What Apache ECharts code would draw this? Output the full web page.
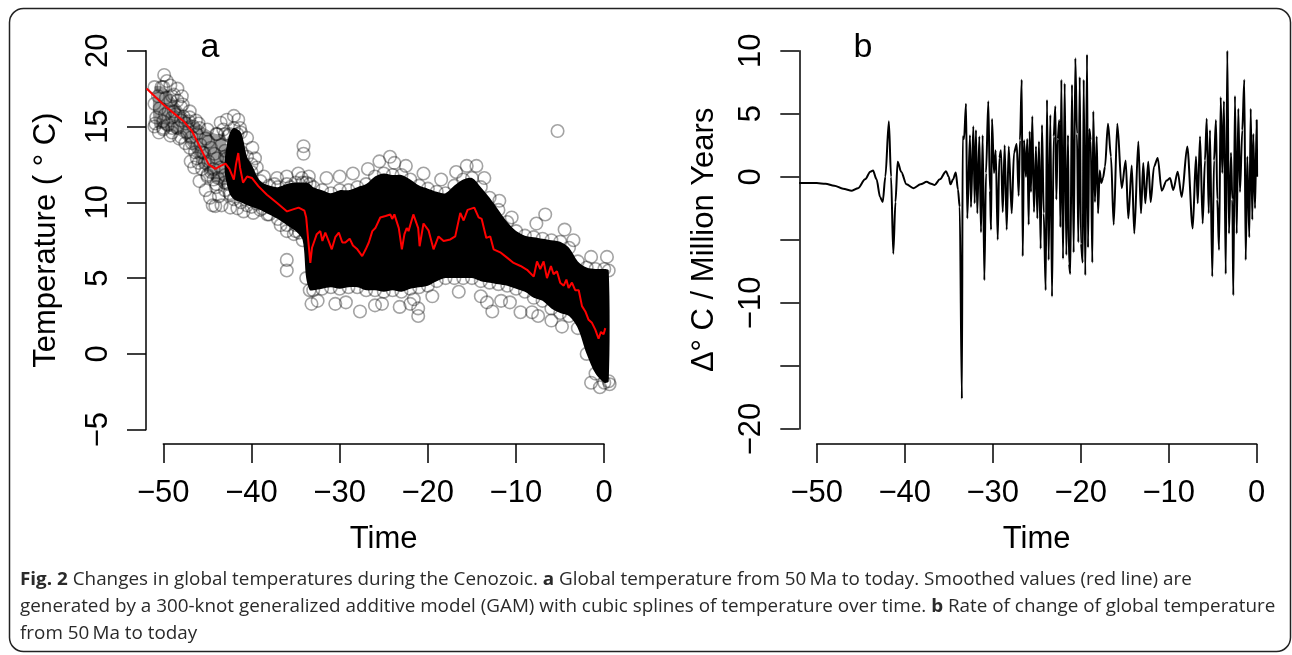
<!DOCTYPE html>
<html><head><meta charset="utf-8">
<script src="https://cdn.jsdelivr.net/npm/echarts@6/dist/echarts.min.js"></script>
<style>html,body{margin:0;padding:0;background:#fff}#c{width:1292px;height:655px}</style>
</head><body><div id="c"></div>
<script>
// ---------- tick labels ----------
const xTicks = [-50, -40, -30, -20, -10, 0];
const xTickLabels = ['\u221250', '\u221240', '\u221230', '\u221220', '\u221210', '0'];
const yTicksA = [-5, 0, 5, 10, 15, 20];
const yTickLabelsA = ['\u22125', '0', '5', '10', '15', '20'];
const yTicksB = [-20, -15, -10, -5, 0, 5, 10];
const yTickLabelsB = ['\u221220', '', '\u221210', '', '0', '5', '10'];

// ---------- panel a: dense core of the point cloud (inner envelope) ----------
const coreT  = [-43.0,-42.5,-42.0,-41.2,-40.5,-40.0,-39.0,-38.0,-37.0,-36.0,-35.0,-34.2,-33.8,-33.4,-33.0,-32.0,-31.0,-30.0,-29.0,-28.0,-27.0,-26.0,-25.0,-24.0,-23.0,-22.0,-21.0,-20.0,-19.0,-18.0,-17.0,-16.0,-15.0,-14.0,-13.0,-12.0,-11.0,-10.0,-9.0,-8.0,-7.0,-6.0,-5.0,-4.0,-3.0,-2.0,-1.0,0.0,0.5];
const coreHi = [13.0,14.5,14.9,14.6,13.0,12.5,11.4,11.1,11.0,11.2,11.3,11.3,11.3,11.2,11.0,10.8,10.6,10.8,10.8,11.0,11.2,11.7,11.9,11.8,11.8,11.5,11.1,10.9,10.7,10.6,11.1,11.5,11.6,11.0,10.3,9.5,8.7,8.1,7.8,7.7,7.6,7.5,7.4,7.0,6.1,5.7,5.6,5.6,5.5];
const coreLo = [11.8,10.6,10.2,10.0,9.8,9.7,9.5,9.2,8.9,8.5,8.1,7.5,5.0,4.2,4.2,4.3,4.4,4.3,4.4,4.4,4.2,4.2,4.1,4.2,4.1,4.3,4.4,4.5,4.8,5.0,5.0,5.0,5.0,4.8,4.7,4.6,4.5,4.3,4.1,3.7,3.5,3.0,2.7,2.5,1.7,0.0,-1.3,-1.9,-1.8];
// lighter, sparser part of the cloud (early Eocene)
const greyT  = [-51.0,-50.0,-49.0,-48.0,-47.0,-46.0,-45.0,-44.0,-43.0];
const greyHi = [17.6,17.6,17.0,16.3,15.6,15.2,14.8,14.5,14.5];
const greyLo = [15.0,14.8,14.6,14.3,13.6,12.6,11.8,11.2,10.8];
// individually visible circles
const ptT = [-49.9,-49.6,-49.2,-48.4,-48.8,-49.2,-48.4,-47.8,-49.8,-48.8,-50.0,-49.5,-50.0,-49.2,-48.4,-47.7,-47.1,-46.6,-47.3,-46.2,-46.75,-45.8,-46.9,-46.2,-45.4,-44.9,-44.3,-45.0,-45.6,-43.7,-44.1,-43.4,-42.4,-41.6,-40.9,-39.8,-39.4,-43.5,-42.8,-42.0,-41.5,-41.3,-40.5,-39.9,-39.6,-39.4,-38.6,-37.1,-36.0,-34.3,-33.5,-38.2,-36.7,-36.0,-35.2,-34.1,-34.1,-36.0,-36.0,-43.9,-43.4,-42.8,-43.9,-44.3,-42.0,-41.6,-41.6,-42.0,-40.9,-41.3,-40.2,-40.2,-42.4,-41.3,
  -50.6,-50.4,-50.8,-49.0,-48.0,-47.5,-46.4,-45.2,-44.6,-44.0,-43.0,-46.5,-45.9,-45.2,-44.7,-44.4,
  -51.0,-50.9,-50.5,-50.2,-49.7,-49.4,-49.0,-48.6,-48.2,-47.9,-47.5,-47.0,-46.8,-46.3,-45.9,-45.6,-45.3,-44.9,-44.6,-44.2,-43.8,-43.5,-43.2,-43.0,-42.6,-42.6,-42.3,-41.9,-41.1,-40.7,-40.0,-39.2,-38.8,-37.8,-37.4,-36.4,-35.6,-35.0,-34.7,-34.6,
  -27.7,-24.3,-21.1,-21.1,-14.5,-12.7,-9.5,-8.2,-6.7,-5.3,
  -33.2,-32.5,-30.5,-29.3,-26.0,-25.2,-23.2,-22.0,-21.6,-19.5,-16.5,-14.0,-13.3,-11.7,-10.7,-7.5,-6.0,-4.8,
  -31.5,-30.0,-28.5,-26.8,-25.5,-23.8,-22.5,-20.5,-18.5,-16.8,-15.6,-13.6,-11.9,-10.5,-7.7,-4.5,-3.5,-1.5,0.3,0.6,-0.5,-1.5];
const ptV = [18.4,18.0,17.7,17.5,17.1,16.7,16.7,16.45,15.8,16.0,15.35,15.1,14.9,14.4,14.9,15.65,15.35,15.0,14.6,14.5,13.9,13.8,12.7,12.9,13.25,12.7,11.5,11.7,12.2,10.4,9.75,9.8,9.65,9.6,9.4,9.3,9.9,15.25,15.45,15.7,15.45,14.9,14.25,13.6,12.9,12.3,11.7,11.6,11.7,11.6,11.7,9.2,8.5,8.1,7.9,13.7,13.2,6.2,5.5,14.5,13.8,12.9,12.9,12.2,14.1,14.5,13.6,11.8,12.0,11.2,11.4,10.5,10.5,10.5,
  17.0,16.2,15.6,15.6,15.4,13.9,13.3,14.2,13.6,11.0,11.3,12.3,11.4,10.8,10.3,9.8,
  16.5,15.2,14.6,17.6,16.9,16.0,14.9,15.8,14.2,17.0,15.2,16.0,14.3,15.4,14.9,13.3,12.6,14.0,12.0,13.2,11.6,12.3,14.8,13.4,14.4,11.2,13.2,12.6,13.3,10.9,12.0,10.5,9.6,10.2,11.2,10.5,11.0,8.5,11.9,8.0,
  2.8,13.0,3.0,2.5,12.4,2.8,2.75,2.75,9.2,14.7,
  3.3,3.5,3.3,3.4,3.2,3.3,3.1,3.3,3.6,3.8,4.1,3.8,3.4,3.5,3.4,2.5,2.2,1.8,
  11.6,11.7,11.9,12.2,12.7,12.6,12.4,11.9,11.5,12.0,12.4,11.6,10.1,9.0,8.6,8.2,7.5,6.4,6.4,-2.0,-2.2,-1.9];
// GAM smooth (red line)
const gamT = [-51.9,-50.0,-48.86,-47.7,-46.75,-45.8,-44.86,-44.1,-43.5,-42.95,-42.5,-42.0,-41.76,-41.5,-41.3,-40.96,-40.5,-39.94,-39.2,-38.25,-37.1,-35.97,-35.2,-34.66,-34.0,-33.8,-33.56,-33.33,-33.14,-32.96,-32.6,-32.2,-31.96,-31.63,-31.26,-30.9,-30.5,-30.1,-29.7,-29.36,-28.87,-28.5,-28.0,-27.45,-27.05,-26.7,-26.3,-25.96,-25.4,-24.8,-24.26,-24.05,-23.8,-23.3,-22.95,-22.66,-22.4,-22.2,-21.65,-21.1,-20.94,-20.5,-19.93,-19.36,-18.8,-18.22,-17.46,-16.9,-16.33,-15.95,-15.5,-14.74,-14.25,-13.9,-13.38,-12.93,-12.55,-11.8,-11.03,-10.28,-9.5,-8.76,-8.0,-7.63,-7.26,-6.88,-6.5,-6.05,-5.75,-5.37,-5.0,-4.6,-4.3,-4.05,-3.67,-3.3,-2.9,-2.53,-2.15,-1.78,-1.4,-1.02,-0.65,-0.38,-0.08,0.11];
const gamV = [17.5,16.45,15.9,15.35,14.7,13.6,12.5,12.2,12.4,12.55,12.2,11.5,12.5,13.25,12.3,11.3,11.7,11.6,11.05,10.5,9.95,9.4,9.55,9.65,9.45,9.0,7.45,6.0,7.0,7.3,7.9,8.1,7.45,8.0,7.45,6.9,7.7,8.0,7.35,7.35,7.6,7.15,6.9,6.45,6.9,7.35,8.1,8.3,9.0,9.1,9.2,8.9,9.2,8.3,6.9,7.9,8.3,8.1,9.2,8.3,7.1,8.6,8.15,6.9,7.75,7.45,7.55,7.75,9.3,8.8,9.5,9.65,9.0,8.9,7.65,7.75,6.9,6.7,6.35,6.0,5.8,5.55,5.1,6.1,5.6,6.1,5.0,5.8,5.25,5.45,4.7,4.5,4.9,4.35,4.7,4.2,4.2,3.15,2.8,2.25,2.05,1.6,1.0,1.45,1.3,1.7];

// ---------- panel b: rate of change ----------
const rateT = [-52.0,-51.0,-50.0,-49.0,-48.0,-47.0,-46.0,-45.3,-44.5,-43.9,-43.6,-43.2,-42.8,-42.5,-42.2,-41.8,-41.55,-41.3,-41.05,-40.8,-40.4,-39.8,-39.0,-38.2,-37.5,-37.0,-36.6,-36.0,-35.3,-35.0,-34.8,-34.5,-34.2,-33.95,-33.75,-33.5,
  -33.41,-33.26,-33.03,-32.89,-32.58,-32.47,-32.2,-32.05,-31.9,-31.75,-31.52,-31.33,-31.14,-30.95,-30.76,-30.5,-30.31,-30.19,-30.08,-29.85,-29.66,-29.43,-29.25,-29.06,-28.86,-28.64,-28.41,-28.18,-27.84,-27.58,-27.27,-27.05,-26.9,-26.7,-26.59,-26.44,-26.22,-26.07,-25.91,-25.8,-25.65,-25.5,-25.31,-25.08,-24.93,-24.74,-24.55,-24.4,-24.2,-23.98,-23.83,-23.64,-23.45,-23.26,-23.07,-22.88,-22.77,-22.61,-22.43,-22.31,-22.2,-22.01,-21.82,-21.63,-21.44,-21.33,-21.18,-20.99,-20.8,-20.61,-20.42,-20.27,-20.11,-19.97,-19.77,-19.66,-19.48,-19.28,-19.17,-19.02,-18.86,-18.68,-18.57,-18.38,-18.18,-18.03,
  -17.84,-17.66,-17.47,-17.24,-16.9,-16.56,-16.25,-15.84,-15.34,-14.89,-14.59,-14.2,-13.91,-13.45,-13.15,-12.89,-12.66,-12.32,-12.05,-11.67,-11.25,-10.8,-10.23,-9.85,-9.48,-8.98,-8.52,-7.89,-7.27,-6.9,-6.7,-6.44,-6.14,-5.88,-5.68,-5.45,-5.31,-5.05,-4.85,-4.63,-4.48,-4.28,-4.09,-3.91,-3.72,-3.52,-3.34,-3.15,-2.92,-2.77,-2.66,-2.47,-2.27,-2.09,-1.9,-1.64,-1.41,-1.25,-1.07,-0.84,-0.68,-0.5,-0.39,-0.19,0.0,0.05];
const rateV = [-0.5,-0.5,-0.5,-0.55,-0.7,-0.95,-1.1,-0.9,-0.2,0.4,0.5,-0.2,-1.6,-2.0,0.0,4.4,0.0,-6.1,-2.0,1.2,0.4,-0.6,-0.9,-0.6,-0.4,-0.55,-0.65,-0.2,0.45,0.0,-0.6,-0.2,0.35,-1.0,-2.4,-17.6,
  3.2,3.0,5.8,-3.3,3.3,-2.4,4.0,-2.1,3.7,-2.9,3.2,-4.4,3.3,-8.2,0.3,6.0,-1.1,-4.2,4.6,0.3,2.1,-5.0,1.5,2.1,-2.8,2.5,-4.2,2.4,-2.9,1.9,2.6,-1.5,2.9,7.7,-6.3,2.9,0.0,3.0,-3.8,3.6,-1.2,4.8,-2.8,2.4,-3.3,2.8,-5.7,4.1,-2.9,-9.0,6.1,-6.6,4.9,-9.5,3.2,5.6,-1.8,3.0,4.5,-4.0,7.7,-6.5,7.4,-6.2,3.3,-6.9,-7.7,7.3,-6.0,9.4,3.4,-5.2,7.9,-5.3,-6.8,7.7,-7.8,9.7,-5.6,3.8,2.9,-6.8,5.2,-2.0,3.2,-2.9,
  0.5,-0.5,-0.1,0.8,4.2,1.6,-3.8,4.2,-0.9,1.3,-3.3,0.9,-4.5,2.8,-2.9,1.1,-2.1,1.2,-2.0,0.8,1.5,-1.1,-0.3,-0.1,-1.05,0.4,-1.6,2.4,-4.1,1.6,-2.1,3.2,-3.7,1.3,4.6,-2.9,3.7,-7.9,1.3,4.5,-1.8,-5.8,6.3,0.3,6.0,-7.7,10.0,-4.5,1.9,-1.8,-9.4,6.4,-4.5,5.4,-1.2,3.7,7.7,-6.6,1.6,-4.8,5.4,-3.4,3.4,-2.5,4.5,0.0];

// ---------- caption ----------
const captionLines = [
  '{b|Fig. 2} Changes in global temperatures during the Cenozoic. {b|a} Global temperature from 50\u2009Ma to today. Smoothed values (red line) are',
  'generated by a 300-knot generalized additive model (GAM) with cubic splines of temperature over time. {b|b} Rate of change of global temperature',
  'from 50\u2009Ma to today'
];

const zip = (a, b) => a.map((v, i) => [v, b[i]]);
const AX = 'Liberation Sans, Arial, Helvetica, sans-serif';
const FS = 31;

function bandSeries(idx, ts, hi, lo, color) {
  return {
    type: 'custom', xAxisIndex: idx, yAxisIndex: idx, clip: false, silent: true, z: 1,
    data: [[ts[0], hi[0]]],
    renderItem: (params, api) => {
      const pts = [];
      for (let i = 0; i < ts.length; i++) pts.push(api.coord([ts[i], hi[i]]));
      for (let i = ts.length - 1; i >= 0; i--) pts.push(api.coord([ts[i], lo[i]]));
      return { type: 'polygon', shape: { points: pts, smooth: 0.3 }, style: { fill: color, stroke: null } };
    }
  };
}
function labelFrom(ticks, labels) {
  return v => { const i = ticks.findIndex(t => Math.abs(t - v) < 1e-9); return i < 0 ? '' : labels[i]; };
}
function xAxisCfg(idx, off) {
  return {
    gridIndex: idx, type: 'value', min: -50, max: 0, interval: 10, offset: off,
    name: 'Time', nameLocation: 'middle', nameGap: 80,
    nameTextStyle: { fontFamily: AX, fontSize: FS, color: '#000' },
    axisLine: { onZero: false, lineStyle: { color: '#000', width: 1.5 } },
    axisTick: { length: 19, lineStyle: { color: '#000', width: 1.5 } },
    axisLabel: { margin: 34, fontFamily: AX, fontSize: FS, color: '#000', formatter: labelFrom(xTicks, xTickLabels), showMinLabel: true, showMaxLabel: true },
    splitLine: { show: false }
  };
}
function yAxisCfg(idx, min, max, off, name, gap, ticks, labels) {
  return {
    gridIndex: idx, type: 'value', min: min, max: max, interval: 5, offset: off,
    name: name, nameLocation: 'middle', nameGap: gap,
    nameTextStyle: { fontFamily: AX, fontSize: FS, color: '#000' },
    axisLine: { onZero: false, lineStyle: { color: '#000', width: 1.5 } },
    axisTick: { length: 19, lineStyle: { color: '#000', width: 1.5 } },
    axisLabel: { margin: 32, rotate: 90, fontFamily: AX, fontSize: FS, color: '#000', formatter: labelFrom(ticks, labels), showMinLabel: true, showMaxLabel: true },
    splitLine: { show: false }
  };
}
function hiddenAxis(idx, min, max) {
  return { gridIndex: idx, type: 'value', min: min, max: max, show: false, splitLine: { show: false } };
}

// caption: one horizontal compression factor for all lines (condensed look), fitted to line 2
const ctx = document.createElement('canvas').getContext('2d');
ctx.font = '18px "Open Sans"';
const capScale = 1255 / ctx.measureText(captionLines[1].replace(/\{b\|([^}]*)\}/g, '$1')).width;

const chart = echarts.init(document.getElementById('c'), null, { renderer: 'canvas' });
const circle = { color: 'rgba(0,0,0,0)', borderColor: 'rgba(0,0,0,0.45)', borderWidth: 1.6 };
chart.setOption({
  animation: false,
  backgroundColor: '#fff',
  grid: [
    { left: 163.3, top: 50.7, width: 440.7, height: 379 },
    { left: 816.7, top: 50.7, width: 440, height: 378.3 },
    { left: 145.66, top: 50.7, width: 467.46, height: 379 },
    { left: 799.1, top: 50.7, width: 466.4, height: 378.3 }
  ],
  xAxis: [xAxisCfg(0, 14.3), xAxisCfg(1, 15), hiddenAxis(2, -52, 1), hiddenAxis(3, -52, 1)],
  yAxis: [
    yAxisCfg(0, -5, 20, 17.3, 'Temperature ( \u00b0 C)', 84, yTicksA, yTickLabelsA),
    yAxisCfg(1, -20, 10, 17.4, '\u0394\u00b0 C / Million Years', 79, yTicksB, yTickLabelsB),
    hiddenAxis(2, -5, 20), hiddenAxis(3, -20, 10)
  ],
  series: [
    bandSeries(2, greyT, greyHi, greyLo, 'rgba(0,0,0,0.38)'),
    bandSeries(2, coreT, coreHi, coreLo, '#000'),
    { type: 'scatter', xAxisIndex: 2, yAxisIndex: 2, clip: false, silent: true, z: 2,
      symbol: 'circle', symbolSize: 12.5, itemStyle: circle,
      data: zip(coreT, coreHi).concat(zip(coreT, coreLo), zip(greyT, greyHi), zip(greyT, greyLo), zip(ptT, ptV)) },
    { type: 'line', xAxisIndex: 2, yAxisIndex: 2, clip: false, silent: true, z: 3,
      showSymbol: false, lineStyle: { color: '#ff0000', width: 2 }, data: zip(gamT, gamV) },
    { type: 'line', xAxisIndex: 3, yAxisIndex: 3, clip: false, silent: true, z: 3,
      showSymbol: false, smooth: 0.3, smoothMonotone: 'x',
      lineStyle: { color: '#000', width: 2 }, data: zip(rateT, rateV) }
  ],
  graphic: [
    { type: 'rect', shape: { x: 9.5, y: 8.5, width: 1281, height: 643, r: 14 }, style: { fill: 'none', stroke: '#222', lineWidth: 1.5 }, silent: true },
    { type: 'text', x: 210, y: 48, style: { text: 'a', fontFamily: AX, fontSize: 34, fill: '#000', align: 'center', verticalAlign: 'middle', textAlign: 'center', textVerticalAlign: 'middle' } },
    { type: 'text', x: 863, y: 48, style: { text: 'b', fontFamily: AX, fontSize: 34, fill: '#000', align: 'center', verticalAlign: 'middle', textAlign: 'center', textVerticalAlign: 'middle' } }
  ].concat(captionLines.map((t, i) => ({
    type: 'text', x: 20, y: 580 + i * 27, scaleX: capScale,
    style: { text: t, fontFamily: '"Open Sans", sans-serif', fontSize: 18, fill: '#2a2a2a', verticalAlign: 'middle', textVerticalAlign: 'middle',
      rich: { b: { fontFamily: '"Open Sans", sans-serif', fontSize: 18, fontWeight: 'bold', fill: '#2a2a2a' } } }
  })))
});
</script></body></html>
